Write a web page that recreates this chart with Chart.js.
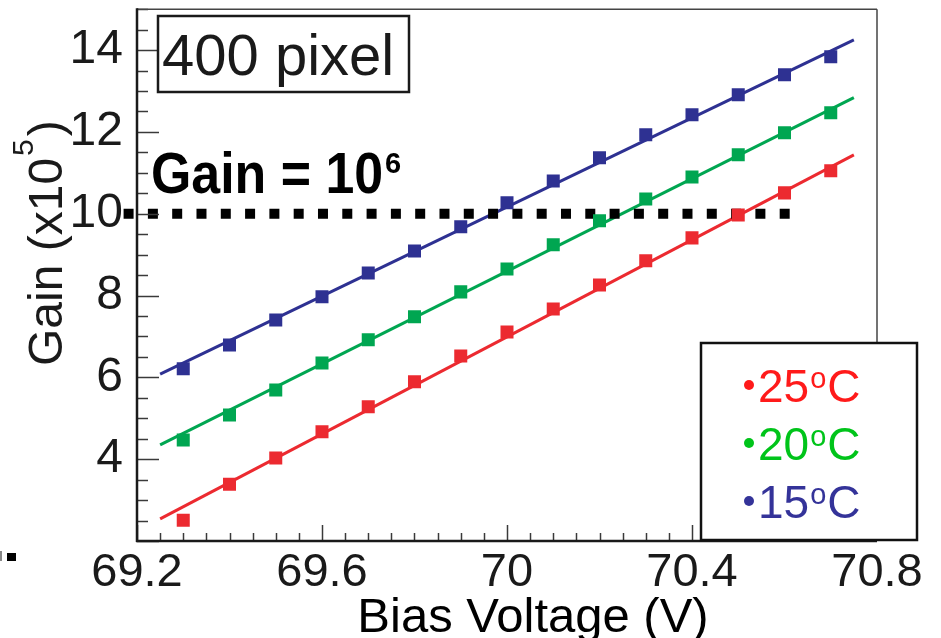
<!DOCTYPE html>
<html>
<head>
<meta charset="utf-8">
<script src="https://cdn.jsdelivr.net/npm/chart.js@4.4.1/dist/chart.umd.min.js"></script>
<style>
  html, body { margin: 0; padding: 0; background: #fff; }
  #wrap { width: 941px; height: 638px; position: relative; }
</style>
</head>
<body>
<div id="wrap"><canvas id="gainChart" width="941" height="638"></canvas></div>
<script>
// Bias voltage scan (V) and measured gain (x10^5) per temperature
const biasVoltage = [69.3, 69.4, 69.5, 69.6, 69.7, 69.8, 69.9, 70.0, 70.1, 70.2, 70.3, 70.4, 70.5, 70.6, 70.7];
const gain25C = [2.51, 3.39, 4.03, 4.67, 5.28, 5.89, 6.52, 7.11, 7.67, 8.26, 8.85, 9.41, 9.97, 10.51, 11.05];
const gain20C = [4.47, 5.08, 5.69, 6.35, 6.92, 7.48, 8.09, 8.65, 9.24, 9.83, 10.36, 10.90, 11.44, 11.98, 12.47];
const gain15C = [6.21, 6.79, 7.40, 7.97, 8.55, 9.09, 9.68, 10.27, 10.80, 11.37, 11.93, 12.42, 12.91, 13.40, 13.84];

// Linear fit end points
const fitRange = [69.25, 70.75];
const fit25C = [2.54, 11.44];
const fit20C = [4.35, 12.84];
const fit15C = [6.08, 14.25];

// Gain = 10^6 reference level
const gainThreshold = 10;
const thresholdRange = [69.171, 70.64];

const xTicks = [69.2, 69.6, 70, 70.4, 70.8];
const yTicks = [4, 6, 8, 10, 12, 14];
const tempLabels = ['25', '20', '15'];

const FONT = '"Liberation Sans", Arial, Helvetica, sans-serif';

const COLORS = {
  t25: { mark: '#ec2a30', text: '#ff1a1a' },
  t20: { mark: '#00a651', text: '#00c41a' },
  t15: { mark: '#2e3192', text: '#343399' }
};

function pts(xs, ys) {
  return xs.map((x, i) => ({ x: x, y: ys[i] }));
}

function markerSet(data, color) {
  return {
    data: data,
    showLine: false,
    pointStyle: 'rect',
    pointRadius: 9.2,
    pointBorderWidth: 0,
    pointBackgroundColor: color,
    pointBorderColor: color,
    order: 0
  };
}

function fitSet(data, color) {
  return {
    data: data,
    showLine: true,
    borderColor: color,
    borderWidth: 3,
    pointRadius: 0,
    order: 2
  };
}

function line(ctx, x1, y1, x2, y2) {
  ctx.beginPath();
  ctx.moveTo(x1, y1);
  ctx.lineTo(x2, y2);
  ctx.stroke();
}

// keep the plot frame fixed: no extra room for edge labels
function pinScale(s, size) {
  if (s.isHorizontal()) s.height = size; else s.width = size;
  s.paddingTop = 0;
  s.paddingBottom = 0;
  s.paddingLeft = 0;
  s.paddingRight = 0;
}

// Ticks, frame, text boxes and legend drawn over the chart
const decorations = {
  id: 'decorations',
  afterDraw(chart) {
    const ctx = chart.ctx;
    const xs = chart.scales.x, ys = chart.scales.y;
    const { left, right, top, bottom } = chart.chartArea;
    ctx.save();

    // inward ticks
    ctx.strokeStyle = '#3a3a3a';
    ctx.lineWidth = 1.5;
    for (let i = 0; i <= 32; i++) {
      const px = Math.round(xs.getPixelForValue(xs.min + i * 0.05)) + 0.5;
      line(ctx, px, bottom, px, bottom - (i % 8 === 0 ? 16 : 8));
    }
    for (let i = 0; i <= 26; i++) {
      const py = Math.round(ys.getPixelForValue(ys.min + i * 0.5)) + 0.5;
      line(ctx, left, py, left + (i % 4 === 0 ? 22 : 11), py);
    }

    // frame
    ctx.strokeStyle = '#444';
    ctx.lineWidth = 1.5;
    line(ctx, left, top, right, top);
    line(ctx, right, top, right, bottom);
    ctx.strokeStyle = '#1a1a1a';
    ctx.lineWidth = 2.5;
    line(ctx, left, top - 1, left, bottom + 1);
    line(ctx, left - 1, bottom, right, bottom);

    // "400 pixel" label box
    ctx.fillStyle = '#fff';
    ctx.fillRect(158, 16, 251, 76);
    ctx.strokeStyle = '#1a1a1a';
    ctx.lineWidth = 2.5;
    ctx.strokeRect(158, 16, 251, 76);
    ctx.fillStyle = '#1a1a1a';
    ctx.textBaseline = 'alphabetic';
    ctx.textAlign = 'left';
    ctx.font = '58px ' + FONT;
    ctx.fillText('400 pixel', 162, 75);

    // threshold annotation (slightly condensed bold face)
    ctx.fillStyle = '#000';
    ctx.font = 'bold 57px ' + FONT;
    const gw = ctx.measureText('Gain = 10').width * 0.91;
    ctx.save();
    ctx.translate(151, 193);
    ctx.scale(0.91, 1);
    ctx.fillText('Gain = 10', 0, 0);
    ctx.restore();
    ctx.font = 'bold 29px ' + FONT;
    ctx.fillText('6', 151 + gw + 2, 173);

    // y axis title
    ctx.save();
    ctx.translate(62, 366);
    ctx.rotate(-Math.PI / 2);
    ctx.fillStyle = '#1a1a1a';
    ctx.font = '48px ' + FONT;
    ctx.fillText('Gain (x10', 0, 0);
    const w = ctx.measureText('Gain (x10').width;
    ctx.font = '30px ' + FONT;
    ctx.fillText('5', w + 2, -29);
    const w5 = ctx.measureText('5').width;
    ctx.font = '48px ' + FONT;
    ctx.fillText(')', w + w5 + 5, 0);
    ctx.restore();

    // x axis title
    ctx.font = '49px ' + FONT;
    ctx.textAlign = 'center';
    ctx.fillText('Bias Voltage (V)', 533, 632);
    ctx.textAlign = 'left';

    // legend box
    ctx.fillStyle = '#fff';
    ctx.fillRect(701, 343, 216, 197);
    ctx.strokeStyle = '#111';
    ctx.lineWidth = 2.5;
    ctx.strokeRect(701, 343, 216, 197);
    const legendColors = [COLORS.t25.text, COLORS.t20.text, COLORS.t15.text];
    tempLabels.forEach((t, i) => {
      const base = 402 + i * 58;
      ctx.fillStyle = legendColors[i];
      ctx.beginPath();
      ctx.arc(749, base - 17, 5, 0, Math.PI * 2);
      ctx.fill();
      ctx.font = '46px ' + FONT;
      ctx.fillText(t, 758, base);
      const tw = ctx.measureText(t).width;
      ctx.font = '29px ' + FONT;
      ctx.fillText('o', 758 + tw + 1, base - 14);
      const ow = ctx.measureText('o').width;
      ctx.font = '46px ' + FONT;
      ctx.fillText('C', 758 + tw + ow + 2, base);
    });

    // stray mark at the left margin
    ctx.fillStyle = '#000';
    ctx.fillRect(7, 553, 9, 8);
    ctx.fillStyle = '#888';
    ctx.fillRect(0, 551, 2, 10);

    ctx.restore();
  }
};

const chart = new Chart(document.getElementById('gainChart'), {
  type: 'scatter',
  data: {
    datasets: [
      markerSet(pts(biasVoltage, gain25C), COLORS.t25.mark),
      markerSet(pts(biasVoltage, gain20C), COLORS.t20.mark),
      markerSet(pts(biasVoltage, gain15C), COLORS.t15.mark),
      {
        data: pts(thresholdRange, [gainThreshold, gainThreshold]),
        showLine: true,
        borderColor: '#000',
        borderWidth: 10,
        borderDash: [10, 14.3],
        borderCapStyle: 'butt',
        pointRadius: 0,
        clip: false,
        order: 1
      },
      fitSet(pts(fitRange, fit25C), COLORS.t25.mark),
      fitSet(pts(fitRange, fit20C), COLORS.t20.mark),
      fitSet(pts(fitRange, fit15C), COLORS.t15.mark)
    ]
  },
  options: {
    responsive: false,
    animation: false,
    layout: { padding: { left: 0, right: 64, top: 9, bottom: 0 } },
    plugins: {
      legend: { display: false },
      tooltip: { enabled: false }
    },
    scales: {
      x: {
        type: 'linear',
        min: 69.2,
        max: 70.8,
        afterBuildTicks: s => { s.ticks = xTicks.map(v => ({ value: v })); },
        afterFit: s => pinScale(s, 97),
        grid: { display: false, drawTicks: false, tickLength: 0 },
        border: { display: false },
        ticks: {
          maxRotation: 0,
          autoSkip: false,
          padding: 4,
          color: '#1a1a1a',
          font: { family: FONT, size: 47 },
          callback: v => String(+v.toFixed(1))
        }
      },
      y: {
        type: 'linear',
        min: 2,
        max: 15,
        afterBuildTicks: s => { s.ticks = yTicks.map(v => ({ value: v })); },
        afterFit: s => pinScale(s, 137),
        grid: { display: false, drawTicks: false, tickLength: 0 },
        border: { display: false },
        ticks: {
          autoSkip: false,
          padding: 14,
          color: '#1a1a1a',
          font: { family: FONT, size: 48 }
        }
      }
    }
  },
  plugins: [decorations]
});
</script>
</body>
</html>
